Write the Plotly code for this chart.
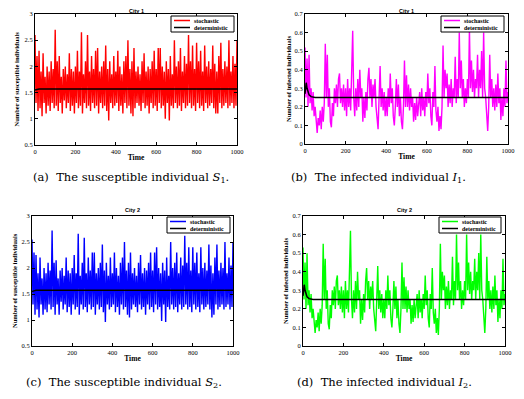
import plotly.graph_objects as go

W, H = 524, 399
OFF = 8  # page body margin in the viewer
FW, FH = W - OFF, H - OFF

# ---------------- data ----------------
time_step = 5
t_stoch = [i * time_step for i in range(201)]

s1_stochastic = [
    2.6,1.3,2.2,1.15,2.3,1.2,1.9,1.05,2.25,1.3,1.8,1.1,2.0,1.25,1.9,1.15,2.1,1.3,1.95,1.2,
    2.7,1.25,2.1,1.15,2.2,1.3,1.8,1.1,1.95,1.35,2.0,1.2,1.85,1.3,2.25,1.15,1.95,1.25,1.9,1.1,
    2.0,1.3,2.3,1.2,1.9,1.25,2.65,1.1,1.85,1.3,2.1,1.2,2.6,1.25,1.9,1.15,2.2,1.3,1.95,1.2,
    2.3,1.25,2.35,1.1,1.9,1.3,2.0,1.2,2.1,1.25,2.4,1.15,1.95,0.97,2.1,1.3,1.85,1.2,2.2,1.25,
    1.9,1.3,2.3,1.15,2.0,1.25,1.85,1.1,2.1,1.3,2.2,1.2,2.5,1.25,1.95,1.1,2.1,1.05,2.35,1.2,
    1.9,1.3,2.0,1.25,1.85,1.15,2.1,1.3,2.25,1.2,1.9,1.25,2.0,1.1,1.95,1.3,2.1,1.2,2.3,1.25,
    1.95,1.15,2.35,1.3,2.35,1.2,2.0,1.25,1.9,1.0,2.1,1.3,1.95,0.97,2.2,1.25,1.85,1.2,2.5,1.3,
    2.0,1.2,2.1,1.25,2.35,1.15,1.9,1.3,2.2,1.2,2.05,1.25,2.6,1.3,2.1,1.2,2.4,1.25,1.95,1.15,
    2.45,1.3,2.1,1.2,2.3,1.25,1.9,1.15,2.4,1.3,2.0,1.2,2.1,1.25,1.95,1.3,2.4,1.2,2.05,1.1,
    1.9,1.1,2.2,1.3,2.45,1.2,1.95,1.25,2.1,1.3,2.0,1.2,2.5,1.25,1.9,1.3,2.2,1.2,2.05,1.25,
    2.5,
]

s2_stochastic = [
    2.55,1.3,2.3,1.1,2.25,1.2,1.9,1.05,2.2,1.3,1.8,1.1,2.0,1.2,1.9,1.15,2.1,1.3,1.95,1.2,
    2.72,1.25,2.1,1.1,2.15,1.3,1.8,1.1,1.95,1.35,2.0,1.2,1.85,1.3,2.2,1.15,1.95,1.25,1.9,1.1,
    2.0,1.3,2.25,1.2,1.9,1.25,2.66,1.1,1.85,1.3,2.1,1.2,2.58,1.25,1.9,1.15,2.2,1.3,1.95,1.2,
    2.3,1.25,2.3,1.1,1.9,1.3,2.0,1.2,2.1,1.25,2.45,1.15,1.95,0.96,2.1,1.3,1.85,1.2,2.2,1.25,
    1.9,1.3,2.3,1.15,2.0,1.25,1.85,1.1,2.1,1.3,2.2,1.2,2.5,1.25,1.95,1.1,2.1,1.05,2.3,1.2,
    1.9,1.3,2.0,1.25,1.85,1.15,2.1,1.3,2.25,1.2,1.9,1.25,2.0,1.1,1.95,1.3,2.1,1.2,2.3,1.25,
    1.95,1.15,2.3,1.3,2.4,1.2,2.0,1.25,1.9,0.98,2.1,1.3,1.95,0.96,2.2,1.25,1.85,1.2,2.5,1.3,
    2.0,1.2,2.1,1.25,2.3,1.15,1.9,1.3,2.2,1.2,2.05,1.25,2.62,1.3,2.1,1.2,2.4,1.25,1.95,1.15,
    2.4,1.3,2.1,1.2,2.3,1.25,1.9,1.15,2.4,1.3,2.0,1.2,2.1,1.25,1.95,1.3,2.45,1.2,2.05,1.05,
    1.9,1.1,2.2,1.3,2.45,1.2,1.95,1.25,2.1,1.3,2.0,1.2,2.5,1.25,1.9,1.3,2.2,1.2,2.05,1.25,
    2.5,
]

i1_stochastic = [
    0.52,0.25,0.46,0.2,0.48,0.22,0.3,0.18,0.28,0.15,0.2,0.12,0.06,0.14,0.1,0.18,0.08,0.2,0.12,0.22,
    0.54,0.25,0.48,0.2,0.3,0.12,0.09,0.22,0.15,0.3,0.22,0.32,0.2,0.35,0.38,0.22,0.3,0.2,0.32,0.18,
    0.3,0.15,0.35,0.2,0.3,0.18,0.35,0.61,0.25,0.15,0.3,0.18,0.35,0.2,0.4,0.25,0.3,0.12,0.25,0.14,
    0.28,0.18,0.35,0.41,0.25,0.35,0.2,0.32,0.25,0.35,0.2,0.12,0.08,0.25,0.42,0.2,0.3,0.18,0.28,0.15,
    0.25,0.15,0.3,0.2,0.38,0.22,0.3,0.15,0.1,0.2,0.35,0.2,0.32,0.15,0.25,0.12,0.08,0.2,0.45,0.2,
    0.37,0.2,0.32,0.18,0.3,0.2,0.25,0.12,0.22,0.13,0.25,0.15,0.2,0.28,0.15,0.3,0.18,0.25,0.15,0.28,
    0.2,0.38,0.22,0.3,0.15,0.1,0.28,0.2,0.42,0.18,0.12,0.2,0.07,0.15,0.08,0.2,0.53,0.25,0.4,0.3,
    0.38,0.2,0.32,0.22,0.35,0.2,0.3,0.25,0.47,0.22,0.35,0.25,0.6,0.3,0.45,0.25,0.35,0.2,0.3,0.22,
    0.35,0.25,0.62,0.3,0.45,0.28,0.4,0.25,0.35,0.3,0.48,0.25,0.4,0.3,0.5,0.25,0.6,0.3,0.25,0.15,
    0.07,0.2,0.48,0.25,0.35,0.2,0.3,0.18,0.32,0.2,0.38,0.22,0.3,0.13,0.25,0.15,0.3,0.2,0.45,0.22,
    0.28,
]

i2_stochastic = [
    0.53,0.25,0.45,0.2,0.5,0.22,0.3,0.18,0.28,0.15,0.2,0.12,0.07,0.14,0.1,0.18,0.08,0.2,0.12,0.22,
    0.55,0.25,0.47,0.2,0.3,0.12,0.09,0.22,0.15,0.3,0.22,0.32,0.2,0.35,0.38,0.22,0.3,0.2,0.32,0.18,
    0.3,0.15,0.35,0.2,0.3,0.18,0.35,0.62,0.25,0.15,0.3,0.18,0.35,0.2,0.4,0.25,0.3,0.12,0.25,0.14,
    0.28,0.18,0.35,0.42,0.25,0.35,0.2,0.32,0.25,0.35,0.2,0.12,0.08,0.25,0.43,0.2,0.3,0.18,0.28,0.15,
    0.25,0.15,0.3,0.2,0.38,0.22,0.3,0.15,0.1,0.2,0.35,0.2,0.32,0.15,0.25,0.12,0.07,0.2,0.45,0.2,
    0.37,0.2,0.32,0.18,0.3,0.2,0.25,0.12,0.22,0.13,0.25,0.15,0.2,0.28,0.15,0.3,0.18,0.25,0.15,0.28,
    0.2,0.38,0.22,0.3,0.15,0.1,0.28,0.2,0.42,0.18,0.12,0.2,0.07,0.15,0.06,0.2,0.55,0.25,0.4,0.3,
    0.38,0.2,0.32,0.22,0.35,0.2,0.3,0.25,0.48,0.22,0.35,0.25,0.6,0.3,0.45,0.25,0.35,0.2,0.3,0.22,
    0.35,0.25,0.6,0.3,0.45,0.28,0.4,0.25,0.35,0.3,0.47,0.25,0.4,0.3,0.5,0.25,0.6,0.3,0.25,0.15,
    0.07,0.2,0.48,0.25,0.35,0.2,0.3,0.18,0.32,0.2,0.38,0.22,0.3,0.13,0.25,0.15,0.3,0.2,0.47,0.22,
    0.28,
]

t_det_s = [0, 5, 10, 20, 30, 50, 1000]
s_deterministic = [1.55, 1.55, 1.56, 1.57, 1.57, 1.57, 1.57]
t_det_i = [0, 3, 6, 10, 15, 20, 30, 50, 1000]
i_deterministic = [0.27, 0.31, 0.33, 0.30, 0.28, 0.265, 0.255, 0.25, 0.25]

x_ticks = [0, 200, 400, 600, 800, 1000]
s_ticks = [0.5, 1, 1.5, 2, 2.5, 3]
i_ticks = [0, 0.1, 0.2, 0.3, 0.4, 0.5, 0.6, 0.7]

panel_titles = ["City 1", "City 1", "City 2", "City 2"]
y_titles = ["Number of susceptible individuals", "Number of infected individuals",
            "Number of susceptible individuals", "Number of infected individuals"]
captions = ["(a)  The susceptible individual <i>S</i><sub>1</sub>.",
            "(b)  The infected individual <i>I</i><sub>1</sub>.",
            "(c)  The susceptible individual <i>S</i><sub>2</sub>.",
            "(d)  The infected individual <i>I</i><sub>2</sub>."]
legend_labels = ["stochastic", "deterministic"]

# ---------------- layout helpers (screen pixels -> paper) ----------------
def px_x(x):
    return (x - OFF) / FW

def px_y(y):
    return 1 - (y - OFF) / FH

panels = [
    dict(stoch=s1_stochastic, det_t=t_det_s, det=s_deterministic, color="#ff0000",
         yr=[0.5, 3], yt=s_ticks, box=(35, 237, 14, 145), ytx=16, cap=(131, 178),
         leg=(171, 234, 16, 32), title_y=10.5),
    dict(stoch=i1_stochastic, det_t=t_det_i, det=i_deterministic, color="#ff00ff",
         yr=[0, 0.7], yt=i_ticks, box=(305, 508, 14, 144), ytx=288, cap=(378, 178),
         leg=(441, 504, 16, 32), title_y=10.5),
    dict(stoch=s2_stochastic, det_t=t_det_s, det=s_deterministic, color="#0000ff",
         yr=[0.5, 3], yt=s_ticks, box=(32, 233, 216, 346), ytx=14, cap=(124, 382),
         leg=(167, 230, 217, 233), title_y=209.5),
    dict(stoch=i2_stochastic, det_t=t_det_i, det=i_deterministic, color="#00ff00",
         yr=[0, 0.7], yt=i_ticks, box=(303, 505, 216, 346), ytx=285, cap=(384, 382),
         leg=(439, 501, 217, 233), title_y=209.5),
]

fig = go.Figure()
annotations = []
shapes = []
tick_font = dict(family="Liberation Serif", size=6.5, color="black")

for k, p in enumerate(panels):
    n = "" if k == 0 else str(k + 1)
    xa, ya = "x" + n, "y" + n
    fig.add_trace(go.Scatter(x=t_stoch, y=p["stoch"], mode="lines", xaxis=xa, yaxis=ya,
                             line=dict(color=p["color"], width=1.4), showlegend=False,
                             name=legend_labels[0]))
    fig.add_trace(go.Scatter(x=p["det_t"], y=p["det"], mode="lines", xaxis=xa, yaxis=ya,
                             line=dict(color="black", width=1.5), showlegend=False,
                             name=legend_labels[1]))
    x0, x1, y0, y1 = p["box"]
    common = dict(showline=True, linecolor="black", linewidth=1, mirror="ticks",
                  ticks="inside", ticklen=3, tickcolor="black", showgrid=False,
                  zeroline=False, tickfont=tick_font, automargin=False)
    fig.layout["xaxis" + n] = dict(domain=[px_x(x0), px_x(x1)], range=[0, 1000],
                                   tickvals=x_ticks, anchor=ya,
                                   title=dict(text="<b>Time</b>", standoff=0,
                                              font=dict(family="Liberation Serif", size=7.5, color="black")),
                                   **common)
    fig.layout["yaxis" + n] = dict(domain=[px_y(y1), px_y(y0)], range=p["yr"],
                                   tickvals=p["yt"], anchor=xa, **common)
    # panel title
    annotations.append(dict(text="<b>" + panel_titles[k] + "</b>", x=px_x((x0 + x1) / 2),
                            y=px_y(p["title_y"]), xref="paper", yref="paper", showarrow=False,
                            xanchor="center", yanchor="middle",
                            font=dict(family="Liberation Sans", size=5.5, color="black")))
    # y title
    annotations.append(dict(text="<b>" + y_titles[k] + "</b>", x=px_x(p["ytx"]),
                            y=px_y((y0 + y1) / 2), xref="paper", yref="paper", showarrow=False,
                            textangle=-90, xanchor="center", yanchor="middle",
                            font=dict(family="Liberation Serif", size=6.5, color="black")))
    # caption
    cx, cy = p["cap"]
    annotations.append(dict(text=captions[k], x=px_x(cx), y=px_y(cy), xref="paper",
                            yref="paper", showarrow=False, xanchor="center", yanchor="middle",
                            font=dict(family="DejaVu Serif", size=11.5, color="black")))
    # legend box
    lx0, lx1, ly0, ly1 = p["leg"]
    shapes.append(dict(type="rect", xref="paper", yref="paper", x0=px_x(lx0), x1=px_x(lx1),
                       y0=px_y(ly1), y1=px_y(ly0), line=dict(color="black", width=1),
                       fillcolor="white", layer="above"))
    rows = [ly0 + 4.5, ly0 + 11.5]
    cols = [p["color"], "black"]
    for r, lab, c in zip(rows, legend_labels, cols):
        shapes.append(dict(type="line", xref="paper", yref="paper", x0=px_x(lx0 + 3),
                           x1=px_x(lx0 + 19), y0=px_y(r), y1=px_y(r),
                           line=dict(color=c, width=1.5), layer="above"))
        annotations.append(dict(text="<b>" + lab + "</b>", x=px_x(lx0 + 21), y=px_y(r),
                                xref="paper", yref="paper", xanchor="left", yanchor="middle",
                                showarrow=False,
                                font=dict(family="Liberation Serif", size=6, color="black")))

fig.update_layout(width=FW, height=FH, margin=dict(l=0, r=0, t=0, b=0, pad=0),
                  paper_bgcolor="white", plot_bgcolor="white",
                  annotations=annotations, shapes=shapes, showlegend=False)

fig.write_html("out.html")
